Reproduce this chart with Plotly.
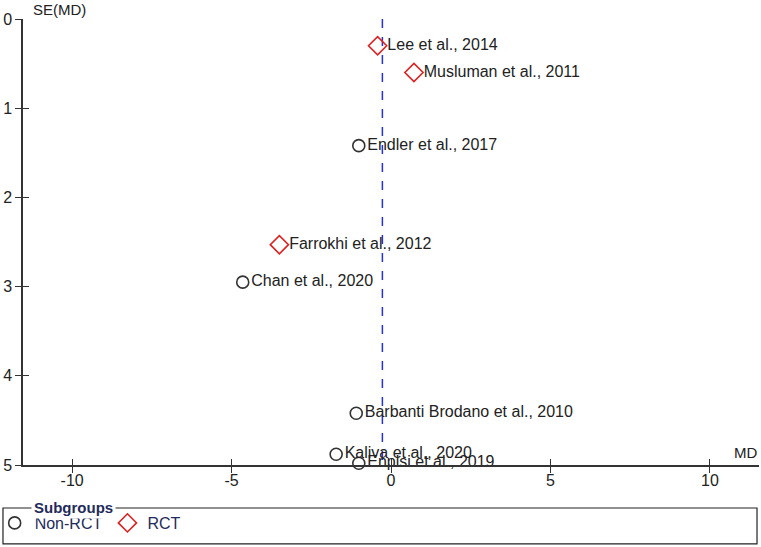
import plotly.graph_objects as go

# Data
nonrct_names = ["Endler et al., 2017", "Chan et al., 2020", "Barbanti Brodano et al., 2010",
                "Kaliva et al., 2020", "Enplsi et al., 2019"]
nonrct_md = [-1.01, -4.65, -1.09, -1.72, -1.01]
nonrct_se = [1.42, 2.95, 4.42, 4.88, 4.98]

rct_names = ["Lee et al., 2014", "Musluman et al., 2011", "Farrokhi et al., 2012"]
rct_md = [-0.42, 0.72, -3.50]
rct_se = [0.30, 0.60, 2.53]

pooled_md = -0.27
se_range = [0, 5]
x_ticks = [-10, -5, 0, 5, 10]
x_ticklabels = ["-10", "-5", "0", "5", "10"]
y_ticks = [0, 1, 2, 3, 4, 5]
y_ticklabels = ["0", "1", "2", "3", "4", "5"]

FONT = "Arial, Liberation Sans, sans-serif"
AX = "#333333"
TXT = "#222222"
NAVY = "#1f2b5a"

fig = go.Figure()

fig.add_trace(go.Scatter(
    x=[pooled_md, pooled_md], y=se_range, mode="lines",
    line=dict(color="#2233dd", width=1.5, dash="dash"),
    showlegend=False, hoverinfo="skip"))

fig.add_trace(go.Scatter(
    x=nonrct_md, y=nonrct_se, mode="markers+text", name="Non-RCT",
    text=nonrct_names, textposition="middle right",
    textfont=dict(family=FONT, size=16, color=TXT),
    marker=dict(symbol="circle-open", size=12, color="#333333", line=dict(width=1.6)),
    cliponaxis=False))

fig.add_trace(go.Scatter(
    x=rct_md, y=rct_se, mode="markers+text", name="RCT",
    text=rct_names, textposition="middle right",
    textfont=dict(family=FONT, size=16, color=TXT),
    marker=dict(symbol="diamond-open", size=14, color="#dd2222", line=dict(width=1.6)),
    cliponaxis=False))

common_x = dict(range=[-11.54, 11.54], tickvals=x_ticks, ticktext=x_ticklabels,
                showgrid=False, zeroline=False, automargin=False)
common_y = dict(range=[5, 0], tickvals=y_ticks, ticktext=y_ticklabels,
                showgrid=False, zeroline=False, automargin=False)

fig.update_layout(
    width=761, height=547,
    margin=dict(l=23, r=2, t=19, b=82, autoexpand=False),
    paper_bgcolor="white", plot_bgcolor="white",
    font=dict(family=FONT, size=16, color=TXT),
    xaxis=dict(**common_x, showline=True, linecolor=AX, linewidth=1.5,
               ticks="outside", ticklen=6, tickwidth=1.2, tickcolor=AX,
               ticklabelstandoff=-6,
               tickfont=dict(size=16, color=TXT)),
    xaxis2=dict(**common_x, overlaying="x", showline=False, ticks="inside",
                ticklen=6, tickwidth=1.2, tickcolor=AX, showticklabels=False),
    yaxis=dict(**common_y, showline=True, linecolor=AX, linewidth=1.5,
               ticks="outside", ticklen=6, tickwidth=1.2, tickcolor=AX,
               tickfont=dict(size=16, color=TXT)),
    yaxis2=dict(**common_y, overlaying="y", showline=False, ticks="inside",
                ticklen=6, tickwidth=1.2, tickcolor=AX, showticklabels=False),
    legend=dict(orientation="h", x=-0.0385, xanchor="left", y=-0.13, yanchor="middle",
                font=dict(family=FONT, size=16, color=NAVY),
                bgcolor="rgba(0,0,0,0)", itemwidth=30, tracegroupgap=0),
    showlegend=True,
)

# dummy trace to activate overlay axes
fig.add_trace(go.Scatter(x=[None], y=[None], xaxis="x2", yaxis="y2", showlegend=False))

fig.add_shape(type="rect", xref="paper", yref="paper",
              x0=-0.0272, x1=0.9973, y0=-0.177, y1=-0.0964,
              line=dict(color="#222222", width=1.2), layer="below")

fig.add_annotation(text="<b>Subgroups</b>", xref="paper", yref="paper",
                   x=0.011, y=-0.0964, xanchor="left", yanchor="middle",
                   showarrow=False, bgcolor="white", borderpad=2,
                   font=dict(family=FONT, size=15, color=NAVY))
fig.add_annotation(text="SE(MD)", xref="paper", yref="paper",
                   x=0.011, y=1.022, xanchor="left", yanchor="middle",
                   showarrow=False, font=dict(family=FONT, size=15, color=TXT))
fig.add_annotation(text="MD", xref="paper", yref="paper",
                   x=1.0, y=0.027, xanchor="right", yanchor="middle",
                   showarrow=False, font=dict(family=FONT, size=15, color=TXT))

fig.write_html("out.html")
